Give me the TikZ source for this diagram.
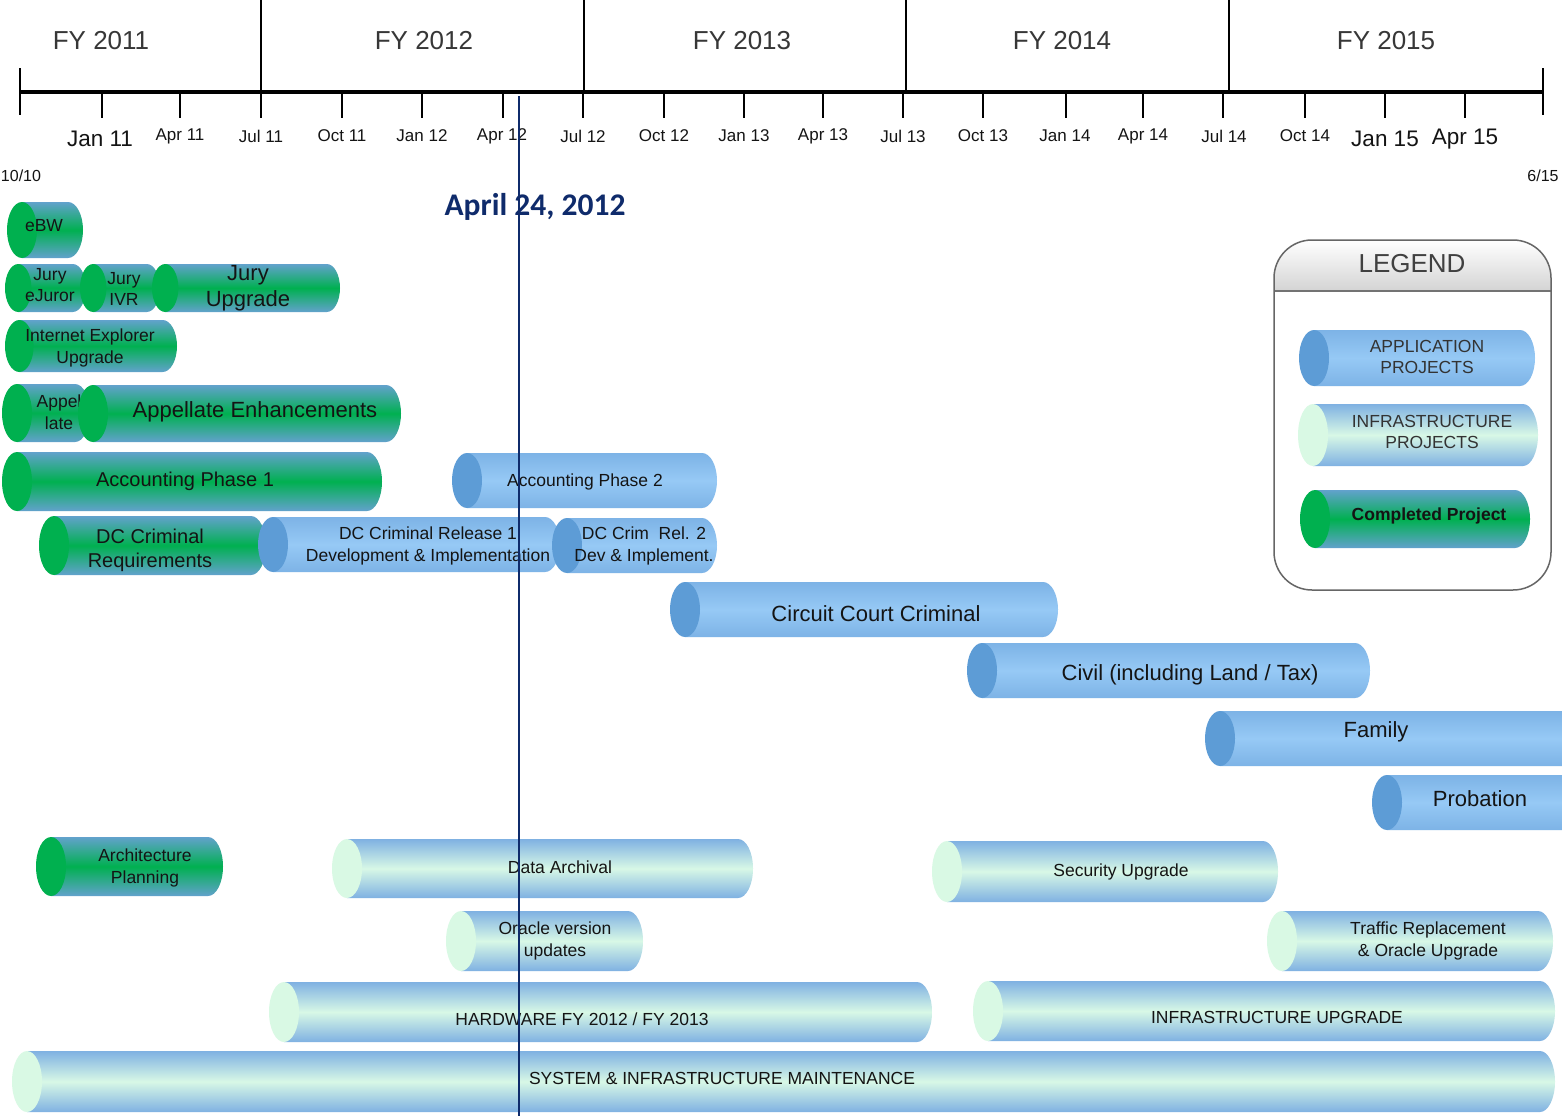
\documentclass[tikz,border=0pt]{standalone}
\usepackage{fontspec}
\setmainfont{Liberation Sans}
\newfontfamily\datefont{Carlito}
\definecolor{appT}{HTML}{7DB3E6}
\definecolor{appM}{HTML}{96C9F5}
\definecolor{appE}{HTML}{5D9CD6}
\definecolor{infT}{HTML}{7FB1E2}
\definecolor{infM}{HTML}{D8F8E6}
\definecolor{infE}{HTML}{D9F9E4}
\definecolor{doneT}{HTML}{62A2CC}
\definecolor{doneM}{HTML}{00B050}
\definecolor{doneE}{HTML}{00B04F}
\definecolor{navy}{HTML}{0F2B6B}
\definecolor{txt}{HTML}{141414}
\newcommand\cyl[5]{%
  \pgfmathsetmacro\cyRy{(#5-#4)/2}%
  \pgfmathsetmacro\cyYm{(#5+#4)/2}%
  \pgfmathsetmacro\cyRx{min(15,0.55*\cyRy)}%
  \shade[#1Body] ({#2+\cyRx},#4) -- ({#3-\cyRx},#4) arc[start angle=-90,end angle=90,x radius=\cyRx,y radius=\cyRy] -- ({#2+\cyRx},#5) -- cycle;
  \fill[#1End] ({#2+\cyRx},\cyYm) ellipse[x radius=\cyRx,y radius=\cyRy];
}
\tikzset{
  appBody/.style={top color=appT,bottom color=appT,middle color=appM},
  appEnd/.style={fill=appE},
  infBody/.style={top color=infT,bottom color=infT,middle color=infM},
  infEnd/.style={fill=infE},
  doneBody/.style={top color=doneT,bottom color=doneT,middle color=doneM},
  doneEnd/.style={fill=doneE},
  lbl/.style={font=\fontsize{17.5}{21.5}\selectfont,align=center,inner sep=0pt,text=txt},
  lblB/.style={font=\fontsize{22}{25.5}\selectfont,align=center,inner sep=0pt,text=txt},
  lblM/.style={font=\fontsize{20}{24}\selectfont,align=center,inner sep=0pt,text=txt},
  mon/.style={font=\fontsize{17}{20}\selectfont,inner sep=0pt,text=txt},
  monB/.style={font=\fontsize{22.5}{26}\selectfont,inner sep=0pt,text=txt},
  fy/.style={font=\fontsize{26}{30}\selectfont,inner sep=0pt,text=txt!85},
  tick/.style={black,line width=1.4pt},
}
\begin{document}
\begin{tikzpicture}[x=1pt,y=-1pt]
\useasboundingbox (0,0) rectangle (1562,1116);
\clip (0,0) rectangle (1562,1116);
\fill[white] (0,0) rectangle (1562,1116);
% ---------------- timeline ----------------
\draw[black,line width=4.5pt] (20,92) -- (1543,92);
\draw[tick] (20,68) -- (20,115);
\draw[tick] (1543,68) -- (1543,115);
\foreach \x in {261,584,906,1229} \draw[tick] (\x,0) -- (\x,92);
\foreach \x in {102,180,261,342,422,503,583,664,744,823,903,983,1066,1143,1223,1305,1385,1465}
  \draw[tick] (\x,92) -- (\x,118);
\node[fy] (fy11) at (101,41) {FY 2011};
\node[fy] (fy12) at (424,41) {FY 2012};
\node[fy] (fy13) at (742,41) {FY 2013};
\node[fy] (fy14) at (1062,41) {FY 2014};
\node[fy] (fy15) at (1386,41) {FY 2015};
\node[monB] (m1) at (100,139) {Jan 11};
\node[mon] (m2) at (180,136) {Apr 11};
\node[mon] (m3) at (261,136) {Jul 11};
\node[mon] (m4) at (342,136) {Oct 11};
\node[mon] (m5) at (422,136) {Jan 12};
\node[mon] (m6) at (502,136) {Apr 12};
\node[mon] (m7) at (583,136) {Jul 12};
\node[mon] (m8) at (664,136) {Oct 12};
\node[mon] (m9) at (744,136) {Jan 13};
\node[mon] (m10) at (823,136) {Apr 13};
\node[mon] (m11) at (903,136) {Jul 13};
\node[mon] (m12) at (983,136) {Oct 13};
\node[mon] (m13) at (1065,136) {Jan 14};
\node[mon] (m14) at (1143,136) {Apr 14};
\node[mon] (m15) at (1224,136) {Jul 14};
\node[mon] (m16) at (1305,136) {Oct 14};
\node[monB] (m17) at (1385,139) {Jan 15};
\node[monB] (m18) at (1465,139) {Apr 15};
\node[mon,font=\fontsize{16}{19}\selectfont] (start) at (21,176) {10/10};
\node[mon,font=\fontsize{16}{19}\selectfont] (end) at (1543,176) {6/15};
% ---------------- bars ----------------
\cyl{done}{7}{83}{202}{258}
\node[lbl] (ebw) at (44,226) {eBW};
\cyl{done}{5}{86}{264}{312}
\node[lbl] (ejur) at (50,285) {Jury\\eJuror};
\cyl{done}{80}{160}{264}{312}
\node[lbl] (ivr) at (124,289) {Jury\\IVR};
\cyl{done}{152}{340}{264}{312}
\node[lblB,font=\fontsize{22}{26}\selectfont] (jup) at (248,288) {Jury\\Upgrade};
\cyl{done}{5}{177}{320}{372}
\node[lbl] (ie) at (90,348) {Internet Explorer\\Upgrade};
\cyl{done}{2}{90}{384}{442}
\node[lbl] (appel) at (59,412) {Appel\\late};
\cyl{done}{78}{401}{385}{442}
\node[lblB] (appenh) at (255,412) {Appellate Enhancements};
\cyl{done}{2}{382}{452}{511}
\node[lblM] (acc1) at (185,481) {Accounting Phase 1};
\cyl{app}{452}{717}{453}{508}
\node[lbl] (acc2) at (585,482) {Accounting Phase 2};
\cyl{done}{39}{266}{516}{575}
\node[lblM] (dcreq) at (150,550) {DC Criminal\\Requirements};
\cyl{app}{258}{560}{517}{572}
\node[lbl] (dcr1) at (428,546) {DC Criminal Release 1\\Development \& Implementation};
\cyl{app}{552}{717}{518}{573}
\node[lbl] (dcr2) at (644,546) {DC Crim\ \ Rel. 2\\Dev \& Implement.};
\cyl{app}{670}{1058}{582}{637}
\node[lblB] (ccc) at (876,614) {Circuit Court Criminal};
\cyl{app}{967}{1370}{643}{698}
\node[lblB] (civil) at (1190,675) {Civil (including Land / Tax)};
\cyl{app}{1205}{1600}{711}{766}
\node[lblB] (family) at (1376,732) {Family};
\cyl{app}{1372}{1600}{775}{830}
\node[lblB] (prob) at (1480,799) {Probation};
\cyl{done}{36}{223}{837}{896}
\node[lbl] (arch) at (145,868) {Architecture\\Planning};
\cyl{inf}{332}{753}{839}{898}
\node[lbl] (archv) at (560,867) {Data Archival};
\cyl{inf}{932}{1278}{841}{902}
\node[lbl] (sec) at (1121,872) {Security Upgrade};
\cyl{inf}{446}{643}{911}{971}
\node[lbl] (ora) at (555,941) {Oracle version\\updates};
\cyl{inf}{1267}{1553}{911}{971}
\node[lbl] (traf) at (1428,941) {Traffic Replacement\\\& Oracle Upgrade};
\cyl{inf}{269}{932}{982}{1042}
\node[lbl] (hw) at (582,1019) {HARDWARE FY 2012 / FY 2013};
\cyl{inf}{973}{1555}{981}{1041}
\node[lbl] (infup) at (1277,1017) {INFRASTRUCTURE UPGRADE};
\cyl{inf}{12}{1555}{1051}{1112}
\node[lbl] (sys) at (722,1078) {SYSTEM \& INFRASTRUCTURE MAINTENANCE};
% ---------------- legend ----------------
\begin{scope}
  \clip[rounded corners=38pt] (1274,240) rectangle (1551,590);
  \shade[top color=white,bottom color=black!17] (1274,240) rectangle (1551,291);
\end{scope}
\draw[black!55,line width=1.3pt] (1274,291) -- (1551,291);
\draw[black!60,line width=1.5pt,rounded corners=38pt] (1274,240) rectangle (1551,590);
\node[fy,text=black!75] (legend) at (1412,264) {LEGEND};
\cyl{app}{1299}{1535}{330}{386}
\node[lbl,text=black!80] (lapp) at (1427,357) {APPLICATION\\PROJECTS};
\cyl{inf}{1298}{1538}{404}{466}
\node[lbl,text=black!80] (linf) at (1432,432) {INFRASTRUCTURE\\PROJECTS};
\cyl{done}{1300}{1530}{490}{548}
\node[lbl,font=\bfseries\fontsize{17.5}{21}\selectfont] (ldone) at (1429,516) {Completed Project};
% ---------------- status date ----------------
\coordinate (dtop) at (519,96);
\coordinate (dbot) at (519,1116);
\node[inner sep=0pt,text=navy,font=\datefont\bfseries\fontsize{31.5}{35}\selectfont] (date) at (535,207) {April 24, 2012};
\draw[navy,line width=2.8pt] (dtop) -- (dbot);
\end{tikzpicture}
\end{document}
